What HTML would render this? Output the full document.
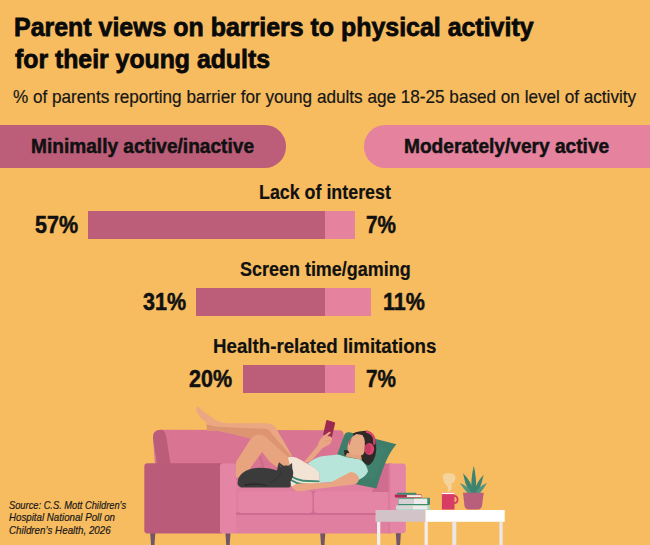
<!DOCTYPE html>
<html>
<head>
<meta charset="utf-8">
<style>
html,body{margin:0;padding:0;}
body{width:650px;height:545px;overflow:hidden;background:#F7BC60;position:relative;font-family:"Liberation Sans",sans-serif;}
.t{position:absolute;white-space:nowrap;line-height:1;transform-origin:0 0;color:#111;}
.b{font-weight:bold;-webkit-text-stroke:0.5px currentColor;}
.h{-webkit-text-stroke:0.8px currentColor;}
.l{-webkit-text-stroke:0.2px currentColor;}
.pill{position:absolute;}
.bar{position:absolute;}
svg{position:absolute;left:0;top:0;}
</style>
</head>
<body>
<div class="t b h" style="left:13.6px;top:14.2px;font-size:26.4px;transform:scaleX(0.9446);color:#0a0a0a">Parent views on barriers to physical activity</div>
<div class="t b h" style="left:14.6px;top:46.4px;font-size:26.4px;transform:scaleX(0.94);color:#0a0a0a">for their young adults</div>
<div class="t" style="left:12.8px;top:88.6px;font-size:17.7px;transform:scaleX(0.969);color:#161616;-webkit-text-stroke:0.2px #161616">% of parents reporting barrier for young adults age 18-25 based on level of activity</div>

<div class="pill" style="left:0;top:125px;width:286px;height:42.5px;background:#BC5E7A;border-radius:0 21.25px 21.25px 0"></div>
<div class="pill" style="left:364px;top:125px;width:286px;height:42.5px;background:#E5839F;border-radius:21.25px 0 0 21.25px"></div>
<div class="t b" style="left:30.8px;top:135.6px;font-size:20.4px;transform:scaleX(0.937)">Minimally active/inactive</div>
<div class="t b" style="left:404.4px;top:135.6px;font-size:20.4px;transform:scaleX(0.938)">Moderately/very active</div>

<div class="t b l" style="left:258.5px;top:181.5px;font-size:20px;transform:scaleX(0.892)">Lack of interest</div>
<div class="t b l" style="left:240px;top:258.5px;font-size:20px;transform:scaleX(0.898)">Screen time/gaming</div>
<div class="t b l" style="left:213px;top:335.5px;font-size:20px;transform:scaleX(0.935)">Health-related limitations</div>

<div class="bar" style="left:88px;top:211px;width:237.4px;height:28px;background:#BC5E7A"></div>
<div class="bar" style="left:325.4px;top:211px;width:29.6px;height:28px;background:#E5839F"></div>
<div class="bar" style="left:196px;top:288px;width:129px;height:28px;background:#BC5E7A"></div>
<div class="bar" style="left:325px;top:288px;width:46px;height:28px;background:#E5839F"></div>
<div class="bar" style="left:242.5px;top:365px;width:82.5px;height:28px;background:#BC5E7A"></div>
<div class="bar" style="left:325px;top:365px;width:30px;height:28px;background:#E5839F"></div>

<div class="t b" style="left:34.9px;top:213.7px;font-size:23px;transform:scaleX(0.935)">57%</div>
<div class="t b" style="left:365.8px;top:213.7px;font-size:23px;transform:scaleX(0.9)">7%</div>
<div class="t b" style="left:142.8px;top:290.7px;font-size:23px;transform:scaleX(0.935)">31%</div>
<div class="t b" style="left:383.4px;top:290.7px;font-size:23px;transform:scaleX(0.935)">11%</div>
<div class="t b" style="left:188.5px;top:367.7px;font-size:23px;transform:scaleX(0.935)">20%</div>
<div class="t b" style="left:365.8px;top:367.7px;font-size:23px;transform:scaleX(0.9)">7%</div>

<div class="t" style="left:9px;top:499.5px;font-size:10.7px;font-style:italic;transform:scaleX(0.87);color:#1a1a1a;-webkit-text-stroke:0.2px #1a1a1a">Source: C.S. Mott Children’s</div>
<div class="t" style="left:9px;top:511.9px;font-size:10.7px;font-style:italic;transform:scaleX(0.91);color:#1a1a1a;-webkit-text-stroke:0.2px #1a1a1a">Hospital National Poll on</div>
<div class="t" style="left:9px;top:524.8px;font-size:10.7px;font-style:italic;transform:scaleX(0.917);color:#1a1a1a;-webkit-text-stroke:0.2px #1a1a1a">Children’s Health, 2026</div>

<svg width="650" height="545" viewBox="0 0 650 545">
<!-- sofa legs -->
<g fill="#725668">
<path d="M150.2 533 L155.3 533 L154.5 545 L151.0 545 Z"/>
<path d="M225.4 533 L230.5 533 L229.7 545 L226.2 545 Z"/>
<path d="M320.2 533 L325.3 533 L324.5 545 L321.0 545 Z"/>
<path d="M395.8 533 L400.9 533 L400.1 545 L396.6 545 Z"/>
</g>
<!-- back cushion -->
<path d="M153 438 Q152.5 430 161 429.8 L339.5 430.3 Q343.7 430.5 343.7 435 L344 492 L157 492 Z" fill="#D97492"/>
<path d="M153 438 Q152.5 430 161 429.8 Q165.5 430 166.5 438 L170.5 464 L157 464 Z" fill="#BB5D7A"/>
<path d="M261 456 L265 470 L263 470 L259 457 Z" fill="#CC6A88"/>
<!-- seat area -->
<rect x="234" y="480" width="158" height="53.5" fill="#E07FA0"/>
<rect x="236" y="512.3" width="154" height="2.6" fill="#CD6B90"/>
<rect x="311" y="491" width="4.5" height="22" fill="#D06D92"/>
<!-- seat cushions -->
<rect x="238.5" y="491.6" width="74" height="21.4" rx="3" fill="#E585A5"/>
<rect x="314" y="491.6" width="73.8" height="21.4" rx="3" fill="#E585A5"/>
<!-- right arm -->
<path d="M372 492 L379 470 L384 463.4 L392 463.4 L392 492 Z" fill="#D16C8F"/>
<rect x="388.5" y="463.4" width="1.8" height="70" fill="#D97A9D"/>
<path d="M390.2 463.4 L402.6 463.4 Q405.8 463.4 405.8 466.6 L405.8 530.1 Q405.8 533.3 402.6 533.3 L390.2 533.3 Z" fill="#E585A5"/>

<!-- pillow -->
<path d="M344.5 434.5 Q346 431.5 349.5 432.3 L396.4 444.3 Q389 453 384.5 465 Q380 476 376.5 488.5 L345 482 L336 458 Z" fill="#3E7D69"/>
<path d="M352 438 L386 448 Q381 458 378 470 L374 480 L348 472 Z" fill="#428470" opacity="0.6"/>

<!-- top straight leg -->
<path d="M196.5 407 Q198 405.6 199.8 408 L204 412 L210 416 L215 419.7 L221.5 422.4 L230 423.3 L268 423.3 Q274 424 277 430 L292 455.5 L285 462 L270 443 Q265 438.5 258 438.5 L251 438.5 L233 434 L219 431 L207 431 L207 425.7 L206.2 422.5 L201 417.9 L197.4 413.2 L196 410 Z" fill="#EBA782"/>
<path d="M206.5 424.5 L216 426.5 L240 428 L266 428.8 Q270 430 272 434 L291.5 456.5 L287 460 L270 443 Q265 438.5 258 438.5 L251 438.5 L233 434 L219 431 L207 431 Z" fill="#DC9570"/>
<!-- bent leg -->
<path d="M236 462 L250 440 Q254 434.5 259 434.5 Q263.5 434.5 267 438 L289 458 L293 479 L270 462 L262 452 L246 474 L236 478 Z" fill="#E8A47F"/>
<!-- shorts -->
<path d="M288 457.5 Q294 455.5 300 459.5 L310.5 465.6 Q318 469 319.5 474 L320 484 L296 487.5 Q290 487 289.5 481 L290 466 Z" fill="#F2E3D4"/>
<path d="M289.5 474.5 Q296 478.5 303 479.8 L319.5 480.5 L319.5 482.3 L303 481.8 Q295.5 480.5 289.5 476.6 Z" fill="#3E8A73"/>
<path d="M289.5 478.2 Q296 482.2 303 483.5 L319.5 484.2 L319.5 486 L303 485.5 Q295.5 484.2 289.5 480.3 Z" fill="#3E8A73"/>
<!-- cat -->
<path d="M237.5 483 C238 473 248 468 259 467.8 C267 467.8 273 469 277 470.5 L277.8 466 L279 462.3 L283.5 465.8 Q286 465.3 288.5 465.8 L292 463 L292.3 468.5 Q294 473 292.5 477.5 Q291 480 290.5 482 Q291.5 486 289.5 487.4 L241 487.4 C238.5 486.5 237.5 485 237.5 483 Z" fill="#3C3B3B"/>
<path d="M244 484.5 Q256 482 268 485 L266 486 Q256 484 245 486 Z" fill="#2C2C2C"/>
<path d="M270 483 Q279 479 281 471" stroke="#2E2E2E" stroke-width="0.7" fill="none"/>
<path d="M279.5 464 L282 466.5 L280 467.5 Z" fill="#555050"/>
<path d="M291.2 464.5 L289 467 L291 467.5 Z" fill="#555050"/>
<!-- shirt -->
<path d="M307.6 463.4 Q316 457 323.7 456 L338.4 454.6 L345.9 457 L360.6 459.5 Q366.5 464 368 471.2 Q366 476.5 358.8 479.8 L340 481.5 L320 482.8 L319.3 473.7 Q316 468 310.5 465.6 Z" fill="#B8E5D9"/>

<!-- raised arm -->
<path d="M303.5 462.5 Q310 455 317.8 445.5 L324 446.5 Q318.5 452.5 312.5 459.5 Q309 462.8 303.5 462.5 Z" fill="#EAA682"/>
<!-- phone -->
<path d="M326.3 420.6 Q326.5 419.9 327.2 420.1 L334.4 422.2 Q335.3 422.6 335.1 423.5 L331.8 437.4 Q331.5 438.3 330.7 438 L323.8 435.3 Q323 435 323.2 434.2 Z" fill="#9C2951"/>
<!-- hand -->
<path d="M317.6 446.5 Q318.8 439.5 323.5 436 L330 436.3 Q332.6 437.4 331.9 440 L330.8 443 Q329.2 445.6 325.8 446.2 L323.8 447.6 Z" fill="#EAA682"/>
<path d="M324 440.5 L331 440.2 L330.8 441 L324 441.5 Z" fill="#DC9570" opacity="0.6"/>
<path d="M322.8 436.2 L329.3 431.7 Q331.2 431.3 330.6 433.1 L325.2 438 Z" fill="#EAA682"/>
<!-- resting arm -->
<path d="M292 487.5 Q294 483 302 483.5 L330 482.8 L350.5 472 Q356.5 472.3 358.8 477.5 Q359.2 482.5 355 484.2 L320 488.6 L310 489.8 Q300 492 296 491 Z" fill="#EAA682"/>

<!-- hair -->
<path d="M353 433.5 Q358 431 367.2 430.8 Q372.5 432.5 374.7 437.4 Q376.8 443 376.3 449.8 Q376 456 373 461.3 Q370.5 464.8 368 465.5 Q364 463.5 361.5 459.7 L356 455 Z" fill="#2E2826"/>
<path d="M344 450 L349 450.5 L350.5 455.5 L344.5 455.5 Z" fill="#2E2826"/>
<!-- neck -->
<path d="M347 453 L360.5 453.5 L362 459.8 L345.5 456.5 Z" fill="#E3A07B"/>
<!-- face -->
<path d="M350.7 439 Q353 435.5 356.5 434 L362.3 435 Q364.8 438 364.8 441.5 L364.8 450 Q364 455 361 455.5 L352 454.5 Q348.5 453 347.6 449.8 Q347 444 350.7 439 Z" fill="#E8AA85"/>
<path d="M350.8 438.8 Q348.6 441.5 348.9 444.8 L350.2 444.2 Q350 441.5 351.6 439.5 Z" fill="#D8456E"/>
<!-- headphones -->
<path d="M366 431.4 Q372.5 433 374.2 438.5 L374.4 444.5" stroke="#D8456E" stroke-width="2.4" fill="none"/>
<ellipse cx="369.3" cy="449" rx="4.9" ry="6.1" fill="#D8456E"/>
<ellipse cx="367.9" cy="449" rx="2.9" ry="5.1" fill="#C73A61"/>

<!-- left arm of sofa (front of legs? no) -->
<path d="M144.3 466.5 Q144.3 463.3 147.5 463.3 L222 463.3 L222 533.5 L147.5 533.5 Q144.3 533.5 144.3 530.3 Z" fill="#BA5C79"/>
<rect x="220" y="463.5" width="16" height="70" rx="2.5" fill="#E585A5"/>

<!-- table -->
<rect x="375.5" y="510" width="50" height="11.8" fill="#D2C3C8"/>
<rect x="425.5" y="510" width="79.2" height="11.8" fill="#FFFFFF"/>
<rect x="377" y="521.8" width="3.3" height="23.2" fill="#F2EEF0"/>
<rect x="424.6" y="521.8" width="3.2" height="23.2" fill="#F2EEF0"/>
<rect x="452.3" y="521.8" width="4" height="23.2" fill="#ECE6EA"/>
<rect x="499.4" y="521.8" width="3.3" height="23.2" fill="#ECE6EA"/>
<!-- books -->
<rect x="395.9" y="505.2" width="34.1" height="4.8" rx="1" fill="#A6D9C9"/>
<rect x="396.3" y="505.9" width="31" height="3.4" fill="#D9D5D7"/>
<rect x="413" y="505.9" width="14.3" height="3.4" fill="#EEECED"/>
<rect x="398" y="497.7" width="32" height="7.3" rx="1.3" fill="#3E8A72"/>
<rect x="398.4" y="498.7" width="28.8" height="5.3" fill="#D5D1D3"/>
<rect x="414" y="498.7" width="13.2" height="5.3" fill="#EDEBEC"/>
<rect x="394.8" y="494.6" width="26.9" height="2.8" rx="0.6" fill="#B02A4E"/>
<rect x="406.9" y="495.1" width="14.5" height="1.9" fill="#F4F2F3"/>
<rect x="397" y="492.8" width="19.2" height="1.9" rx="0.5" fill="#3E8A72"/>
<!-- steam -->
<path d="M443.5 480 Q441 473.5 447 473.2 Q449 472.5 452 473.5 Q456.5 475 455.3 479.5 Q454.5 483 451 483.5 Q453 487.5 450 491.5 L447.5 491.5 Q449 487 446 484.5 Q443.5 483 443.5 480 Z" fill="#F4D49C"/>
<!-- mug -->
<path d="M454 495.8 Q457.6 495.8 457.6 499.6 Q457.6 503.2 454 503.2" stroke="#D73C67" stroke-width="1.8" fill="none"/>
<rect x="441.9" y="492.7" width="12.6" height="16.8" fill="#D73C67"/>
<rect x="441.9" y="492.7" width="12.6" height="1.4" fill="#FFFFFF"/>
<!-- plant leaves -->
<g fill="#3E8270">
<path d="M473.8 465.7 Q477 479 475.8 493 L471.5 493 Q470.5 479 473.8 465.7 Z"/>
<path d="M463 473.2 Q471.5 481 474 493 L469.5 493 Q464.5 483 463 473.2 Z"/>
<path d="M483.7 474.8 Q476.5 482 473.5 493 L478 493 Q482 483 483.7 474.8 Z"/>
</g>
<g fill="#4F9580">
<path d="M459.8 483 Q468 486 472 493 L467.5 493 Q463.5 488.5 459.8 483 Z"/>
<path d="M487 483 Q479 486 475.5 493 L480 493 Q484 488.5 487 483 Z"/>
</g>
<!-- pot -->
<path d="M463 492.7 L483.7 492.7 L482 506 Q481 509.5 477 509.5 L469.5 509.5 Q465.5 509.5 464.5 506 Z" fill="#B95E7B"/>
</svg>
</body>
</html>
